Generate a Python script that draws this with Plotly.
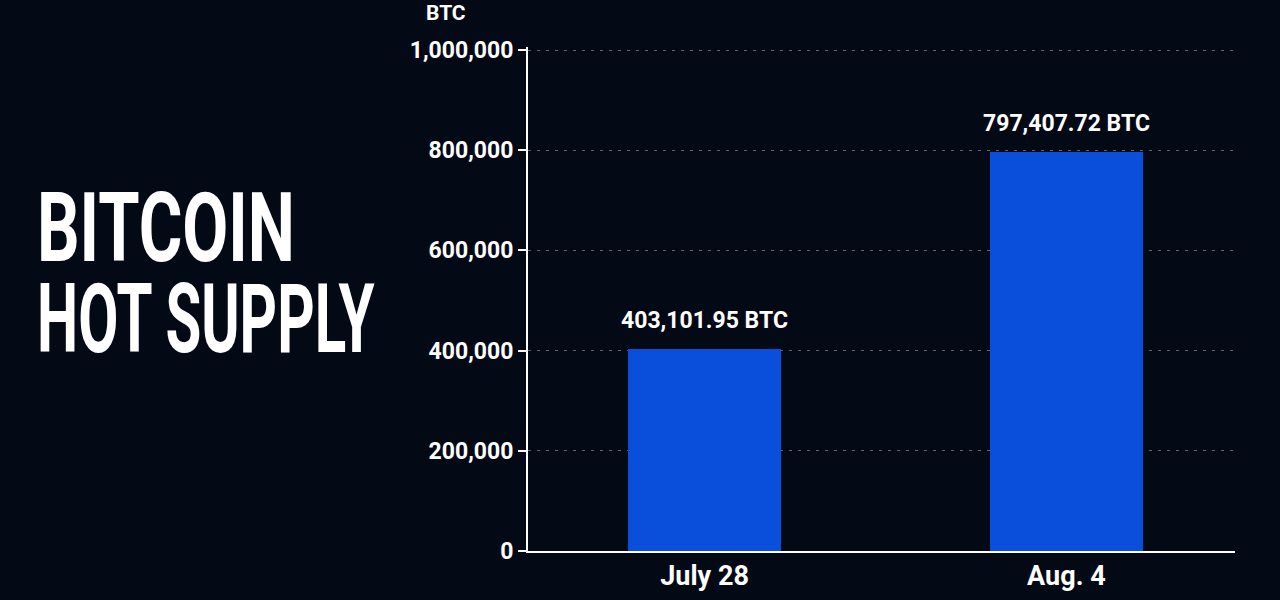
import plotly.graph_objects as go

# hot supply, BTC
dates = ["July 28", "Aug. 4"]
supply = [403101.95, 797407.72]
y_ticks = [0, 200000, 400000, 600000, 800000, 1000000]

W, H = 1280, 600
M = dict(l=528, r=45, t=47, b=49)
BG = "#040916"
BLUE = "#0a4fdc"


def px_x(px):
    # pixel -> paper x
    return (px - M["l"]) / (W - M["l"] - M["r"])


def px_y(py):
    return (H - M["b"] - py) / (H - M["t"] - M["b"])


fig = go.Figure(go.Bar(
    x=dates,
    y=supply,
    width=0.423,
    marker=dict(color=BLUE, line=dict(width=0)),
    hoverinfo="skip",
))

# value labels above the bars
for d, v in zip(dates, supply):
    fig.add_annotation(
        x=d, y=v, xref="x", yref="y",
        text="{:,.2f} BTC".format(v),
        showarrow=False, yanchor="bottom", yshift=13,
        font=dict(family="Roboto", size=23, color="white", weight="bold"),
    )

# unit label above the axis
fig.add_annotation(
    x=px_x(446), y=px_y(13), xref="paper", yref="paper",
    text="BTC", showarrow=False, xanchor="center", yanchor="middle",
    font=dict(family="Roboto", size=21, color="white", weight="bold"),
)

# big title on the left (squeezed horizontally below, no condensed font here)
for txt, yc in [("BITCOIN", 228), ("HOT SUPPLY", 319)]:
    fig.add_annotation(
        x=px_x(35), y=px_y(yc), xref="paper", yref="paper",
        text=txt, showarrow=False, xanchor="left", yanchor="middle",
        height=86, valign="middle",
        font=dict(family="Roboto", size=96, color="white", weight="bold"),
    )

fig.update_layout(
    width=W, height=H,
    margin=M,
    paper_bgcolor=BG,
    plot_bgcolor=BG,
    showlegend=False,
    bargap=0,
    xaxis=dict(
        type="category",
        range=[-0.488, 1.466],
        automargin=False,
        showline=True, linecolor="white", linewidth=2,
        showgrid=False, ticks="",
        tickfont=dict(family="Roboto", size=27, color="white", weight="bold"),
        fixedrange=True,
    ),
    yaxis=dict(
        # top a hair past 1M so its grid line is still drawn
        range=[0, 1005988],
        automargin=False,
        tickvals=y_ticks,
        tickformat=",",
        showline=True, linecolor="white", linewidth=2,
        ticks="outside", ticklen=8, tickcolor="white", tickwidth=2,
        showgrid=True, gridcolor="#5b6170", gridwidth=1, griddash="3px,6px",
        zeroline=False,
        tickfont=dict(family="Roboto", size=23, color="white", weight="bold"),
        fixedrange=True,
    ),
)

squeeze = """
var gd = document.getElementById('{plot_id}');
var widths = {'BITCOIN': 258, 'HOT SUPPLY': 338};
gd.querySelectorAll('.annotation-text').forEach(function (t) {
    var w = widths[t.textContent];
    if (!w) return;
    var b = t.getBBox();
    var k = w / b.width;
    t.setAttribute('transform', 'translate(' + b.x + ',0) scale(' + k + ',1) translate(' + (-b.x) + ',0)');
});
"""

fig.write_html("out.html", post_script=squeeze, config={"displayModeBar": False})

# drop the default page margin
with open("out.html") as f:
    html = f.read()
html = html.replace("<body>", '<body style="margin:0;background:%s">' % BG, 1)
with open("out.html", "w") as f:
    f.write(html)
